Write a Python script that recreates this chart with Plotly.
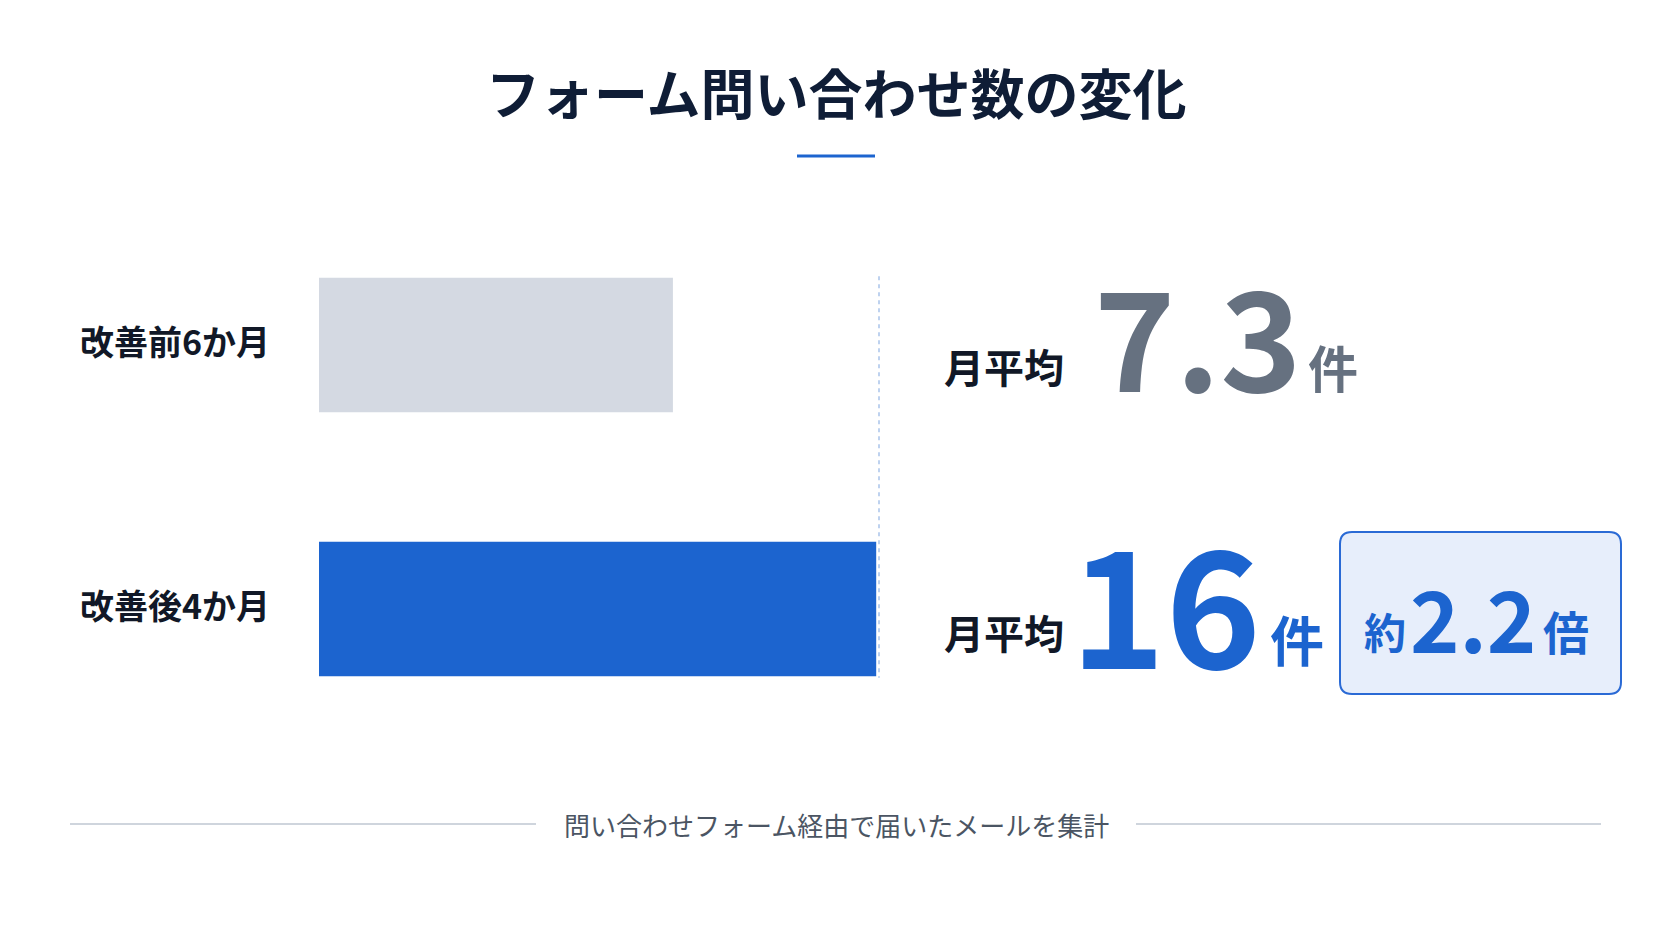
"""Form inquiry count before/after the form improvement."""

import plotly.graph_objects as go

W, H = 1672, 941
OFFSET = 8  # the page body keeps its default 8px margin

TITLE = "フォーム問い合わせ数の変化"
CATEGORIES = ["改善前6か月", "改善後4か月"]
MONTHLY_AVG = [7.3, 16]
# bar length as share of the bar area (not to scale with the averages)
BAR_LENGTH = [63.2, 99.5]
AVG_LABEL = "月平均"
UNIT = "件"
RATIO = 2.2
NOTE = "問い合わせフォーム経由で届いたメールを集計"

GREY_BAR = "#d4d9e2"
BLUE = "#1c64cf"
NAVY = "#0f1d36"
INK = "#111827"
SLATE = "#667180"
JP = "Noto Sans CJK JP"


def px(x):
    return (x - OFFSET) / W


def py(y):
    return 1 - (y - OFFSET) / H


def text(s, x, y, size, color, weight=700, xanchor="left"):
    return dict(
        text=s, x=px(x), y=py(y), xref="paper", yref="paper",
        xanchor=xanchor, yanchor="middle", showarrow=False,
        font=dict(family=JP, size=size, color=color, weight=weight),
    )


def rounded_box(x0, y0, x1, y1, r):
    pts = [
        f"M {px(x0 + r)},{py(y0)}", f"L {px(x1 - r)},{py(y0)}",
        f"Q {px(x1)},{py(y0)} {px(x1)},{py(y0 + r)}", f"L {px(x1)},{py(y1 - r)}",
        f"Q {px(x1)},{py(y1)} {px(x1 - r)},{py(y1)}", f"L {px(x0 + r)},{py(y1)}",
        f"Q {px(x0)},{py(y1)} {px(x0)},{py(y1 - r)}", f"L {px(x0)},{py(y0 + r)}",
        f"Q {px(x0)},{py(y0)} {px(x0 + r)},{py(y0)}", "Z",
    ]
    return " ".join(pts)


fig = go.Figure(
    go.Bar(
        x=BAR_LENGTH,
        y=CATEGORIES,
        orientation="h",
        width=0.51,
        marker=dict(color=[GREY_BAR, BLUE], line=dict(width=0)),
        customdata=MONTHLY_AVG,
        hovertemplate="%{y}: 月平均 %{customdata}件<extra></extra>",
    )
)

annotations = [text(TITLE, 836, 91, 54, NAVY, xanchor="center")]
for cat in CATEGORIES:
    annotations.append(dict(
        text=cat, x=px(78), y=cat, xref="paper", yref="y", yshift=5,
        xanchor="left", yanchor="middle", showarrow=False,
        font=dict(family=JP, size=34, color=INK, weight=700),
    ))

# row 1: before
annotations += [
    text(AVG_LABEL, 942, 366, 40, INK),
    text(f"{MONTHLY_AVG[0]:g}", 1092, 332, 138, SLATE),
    text(UNIT, 1306, 366, 50, SLATE),
]
# row 2: after
annotations += [
    text(AVG_LABEL, 942, 632, 40, INK),
    text(f"{MONTHLY_AVG[1]:g}", 1068, 598, 162, BLUE),
    text(UNIT, 1268, 638, 54, BLUE),
    text("約", 1362, 630, 42, BLUE),
    text(f"{RATIO:g}", 1408, 616, 84, BLUE),
    text("倍", 1541, 630, 46, BLUE),
]
annotations.append(dict(
    text=NOTE, x=px(836), y=py(824), xref="paper", yref="paper",
    xanchor="center", yanchor="middle", showarrow=False,
    font=dict(family=JP, size=26, color="#4b5563", weight=400),
))

shapes = [
    dict(type="line", xref="paper", yref="paper", x0=px(797), x1=px(875),
         y0=py(156), y1=py(156), line=dict(color=BLUE, width=3)),
    dict(type="line", xref="x domain", yref="y", x0=1, x1=1, y0=-0.26, y1=1.26,
         line=dict(color="#a9c3ea", width=1.5, dash="4px,4px")),
    dict(type="path", xref="paper", yref="paper", path=rounded_box(1340, 532, 1621, 694, 12),
         fillcolor="#e7eefb", line=dict(color="#2a6ad5", width=2), layer="below"),
    dict(type="line", xref="paper", yref="paper", x0=px(70), x1=px(536),
         y0=py(824), y1=py(824), line=dict(color="#cfd5dd", width=2)),
    dict(type="line", xref="paper", yref="paper", x0=px(1136), x1=px(1601),
         y0=py(824), y1=py(824), line=dict(color="#cfd5dd", width=2)),
]

fig.update_layout(
    width=W,
    height=H,
    margin=dict(l=0, r=0, t=0, b=0),
    paper_bgcolor="#ffffff",
    plot_bgcolor="rgba(0,0,0,0)",
    showlegend=False,
    annotations=annotations,
    shapes=shapes,
    xaxis=dict(domain=[px(319), px(879)], range=[0, 100], visible=False, fixedrange=True),
    yaxis=dict(domain=[py(741), py(213)], range=[1.5, -0.5], visible=False,
               categoryorder="array", categoryarray=CATEGORIES, fixedrange=True),
)

fig.write_html("out.html")
